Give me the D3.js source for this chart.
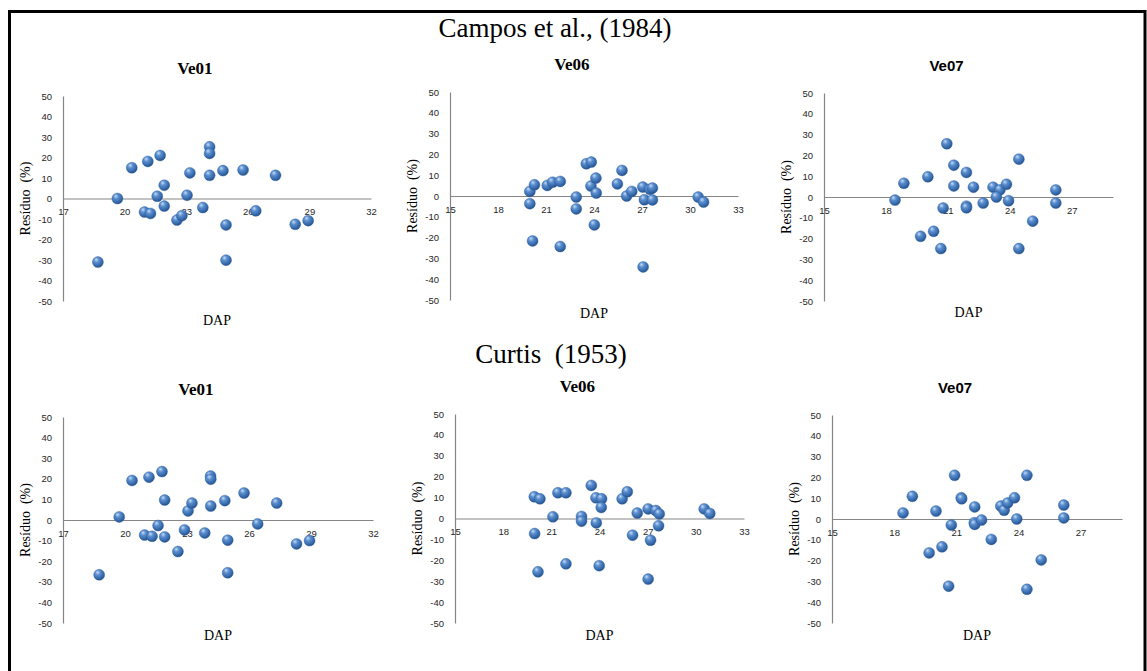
<!DOCTYPE html>
<html>
<head>
<meta charset="utf-8">
<script src="https://cdn.jsdelivr.net/npm/d3@7"></script>
<style>
  html, body { margin: 0; padding: 0; background: #fff; }
  svg { display: block; }
</style>
</head>
<body>
<svg id="chart" width="1147" height="671"></svg>
<script>
// Residual (%) against DAP for three trees, fitted with two volume models.
// Each series is a list of [DAP, residual %] pairs.

const groupTitles = ["Campos et al., (1984)", "Curtis\u00a0 (1953)"];
const panelTitles = ["Ve01", "Ve06", "Ve07"];

const yTicks = [-50, -40, -30, -20, -10, 0, 10, 20, 30, 40, 50];
const xDomains = [[17, 32], [15, 33], [15, 29]];
const xTickStep = 3;

const camposVe01 = [
  [18.7, -31], [19.65, 0], [20.35, 15], [20.97, -6.6], [21.26, -7.3],
  [21.13, 18.1], [21.73, 21], [21.59, 1.1], [21.93, 6.5], [21.93, -3.7],
  [22.55, -10.5], [22.79, -8.4], [23.18, 12.5], [23.04, 1.6], [23.81, -4.4],
  [24.14, 25.2], [24.14, 22], [24.14, 11.3], [24.79, 13.6], [24.94, -12.9],
  [24.94, -30.1], [25.77, 13.9], [26.39, -6], [27.35, 11.3], [28.31, -12.6],
  [28.94, -10.8]
];

const camposVe06 = [
  [19.99, 2.2], [19.99, -3.7], [20.28, 5.4], [20.16, -21.6], [21.08, 5.1],
  [21.41, 6.6], [21.89, 7], [21.89, -24.3], [22.89, -0.5], [22.89, -6.2],
  [23.52, 15.5], [23.83, 16.3], [23.81, 4.8], [24.12, 8.6], [24.14, 1.4],
  [24.02, -13.9], [25.46, 5.8], [25.75, 12.3], [26.04, 0], [26.36, 2.2],
  [27.05, 4.3], [27.15, -1.8], [27.07, -34.1], [27.5, 3.2], [27.65, 3.8],
  [27.65, -1.9], [30.51, -0.5], [30.85, -2.9]
];

const camposVe07 = [
  [18.44, -1.5], [18.87, 6.6], [20.03, 9.7], [19.68, -18.9], [20.31, -16.5],
  [20.66, -24.8], [20.77, -5.3], [20.95, 25.6], [21.29, 15.3], [21.29, 5.3],
  [21.9, 11.8], [21.9, -4.4], [21.9, -5.2], [22.24, 4.7], [22.71, -2.9],
  [23.19, 4.7], [23.52, 3.4], [23.35, 0], [23.84, 6.1], [23.94, -1.8],
  [24.44, 18.2], [24.44, -24.8], [25.11, -11.6], [26.23, 3.4], [26.23, -2.9]
];

const curtisVe01 = [
  [18.75, -26.6], [19.72, 1.5], [20.34, 19.2], [20.95, -7.3], [21.31, -7.9],
  [21.16, 20.8], [21.79, 23.5], [21.6, -2.7], [21.92, 9.7], [21.92, -8.2],
  [22.56, -15.3], [22.88, -4.8], [23.05, 4.4], [23.24, 8.2], [23.86, -6.3],
  [24.14, 21.3], [24.15, 19.8], [24.15, 6.8], [24.83, 9.4], [24.97, -9.8],
  [24.97, -25.6], [25.76, 13.1], [26.42, -1.9], [27.34, 8.2], [28.3, -11.6],
  [28.93, -10]
];

const curtisVe06 = [
  [19.94, 10.4], [19.96, -7.2], [20.29, 9.4], [20.17, -25.5], [21.1, 0.8],
  [21.41, 12.3], [21.91, 12.3], [21.91, -21.7], [22.88, 1], [22.88, -1.3],
  [23.49, 15.8], [23.78, 9.9], [24.13, 9.4], [24.11, 5.3], [23.8, -2.1],
  [23.98, -22.6], [25.41, 9.4], [25.73, 12.8], [26.06, -8], [26.35, 2.6],
  [27.03, 4.6], [27.18, -10.4], [27.03, -29], [27.51, 3.8], [27.72, 2.2],
  [27.68, -3.5], [30.52, 4.6], [30.87, 2.4]
];

const curtisVe07 = [
  [18.43, 2.9], [18.88, 10.9], [20.02, 3.8], [19.69, -16.3], [20.31, -13.4],
  [20.63, -32.3], [20.76, -2.9], [20.92, 21], [21.24, 10.2], [21.26, 9.7],
  [21.89, 5.8], [21.87, -1.8], [21.89, -2.6], [22.22, -0.5], [22.69, -9.8],
  [23.15, 6.2], [23.31, 4.2], [23.48, 7.7], [23.81, 10.2], [23.92, 0],
  [24.41, 21], [24.41, -33.8], [25.1, -19.7], [26.19, 6.7], [26.19, 0.5]
];

const series = [
  [camposVe01, camposVe06, camposVe07],
  [curtisVe01, curtisVe06, curtisVe07]
];

// ---- layout --------------------------------------------------------------
const plotBoxes = [
  [{l: 63, t: 96, r: 371, b: 301, dapY: 325}, {l: 450, t: 92, r: 738, b: 300, dapY: 318}, {l: 824, t: 93, r: 1113, b: 301, dapY: 317}],
  [{l: 63, t: 417, r: 373, b: 623, dapY: 640}, {l: 455, t: 414, r: 744, b: 623, dapY: 640}, {l: 832, t: 415, r: 1122, b: 623, dapY: 640}]
];
const groupTitlePos = [{x: 555, y: 37}, {x: 551, y: 363}];

const serif = "'Liberation Serif', 'Times New Roman', serif";
const sans = "'Liberation Sans', Arial, sans-serif";

const svg = d3.select("#chart");

// Shaded sphere used for every marker
const defs = svg.append("defs");
const grad = defs.append("radialGradient")
  .attr("id", "ball")
  .attr("cx", "40%").attr("cy", "35%").attr("r", "65%")
  .attr("fx", "35%").attr("fy", "28%");
grad.append("stop").attr("offset", "0%").attr("stop-color", "#c5dbf5");
grad.append("stop").attr("offset", "35%").attr("stop-color", "#5b8fd0");
grad.append("stop").attr("offset", "80%").attr("stop-color", "#3467a8");
grad.append("stop").attr("offset", "100%").attr("stop-color", "#24518c");

// Outer frame
svg.append("rect")
  .attr("x", 9.5).attr("y", 11.5)
  .attr("width", 1135.5).attr("height", 690)
  .attr("fill", "none").attr("stroke", "#000").attr("stroke-width", 3);

groupTitles.forEach((gt, gi) => {
  svg.append("text")
    .attr("x", groupTitlePos[gi].x).attr("y", groupTitlePos[gi].y)
    .attr("text-anchor", "middle")
    .style("font-family", serif).style("font-size", "27px")
    .attr("fill", "#000")
    .text(gt);

  panelTitles.forEach((pt, pi) => {
    const box = plotBoxes[gi][pi];
    const data = series[gi][pi];
    const dom = xDomains[pi];

    const x = d3.scaleLinear().domain(dom).range([box.l, box.r]);
    const y = d3.scaleLinear().domain([-50, 50]).range([box.b, box.t]);
    const cx = (box.l + box.r) / 2;

    const g = svg.append("g");

    // panel title
    const isSans = pt === "Ve07";
    g.append("text")
      .attr("x", cx - 22).attr("y", box.t - 22)
      .attr("text-anchor", "middle")
      .style("font-family", isSans ? sans : serif)
      .style("font-size", isSans ? "15px" : "17px")
      .style("font-weight", "bold")
      .text(pt);

    // y axis
    const yAxis = d3.axisLeft(y)
      .tickValues(yTicks)
      .tickSizeInner(0).tickSizeOuter(0)
      .tickPadding(11)
      .tickFormat(d => String(d));
    const ya = g.append("g").attr("transform", `translate(${box.l},0)`).call(yAxis);
    ya.select(".domain").attr("stroke", "#868686").attr("stroke-width", 1.2);
    ya.selectAll("text")
      .style("font-family", sans).style("font-size", "9.5px").attr("fill", "#262626");

    // x axis along the zero line
    const xt = d3.range(dom[0], dom[1] + 0.001, xTickStep);
    const xAxis = d3.axisBottom(x)
      .tickValues(xt)
      .tickSizeInner(0).tickSizeOuter(0)
      .tickPadding(10)
      .tickFormat(d => String(d));
    const xa = g.append("g").attr("transform", `translate(0,${y(0)})`).call(xAxis);
    xa.select(".domain").attr("stroke", "#868686").attr("stroke-width", 1.2);
    xa.selectAll("text")
      .style("font-family", sans).style("font-size", "9.5px").attr("fill", "#262626");

    // axis titles
    g.append("text")
      .attr("transform", `translate(${box.l - 38},${(box.t + box.b) / 2}) rotate(-90)`)
      .attr("text-anchor", "middle")
      .attr("dy", "0.35em")
      .style("font-family", serif).style("font-size", "14px")
      .text("Resíduo\u00a0 (%)");

    g.append("text")
      .attr("x", cx).attr("y", box.dapY)
      .attr("text-anchor", "middle")
      .style("font-family", serif).style("font-size", "14px")
      .text("DAP");

    // markers
    g.append("g").selectAll("circle")
      .data(data)
      .join("circle")
      .attr("cx", d => x(d[0]))
      .attr("cy", d => y(d[1]))
      .attr("r", 5.5)
      .attr("fill", "url(#ball)")
      .attr("stroke", "#2f5f9e")
      .attr("stroke-width", 0.4);
  });
});
</script>
</body>
</html>
